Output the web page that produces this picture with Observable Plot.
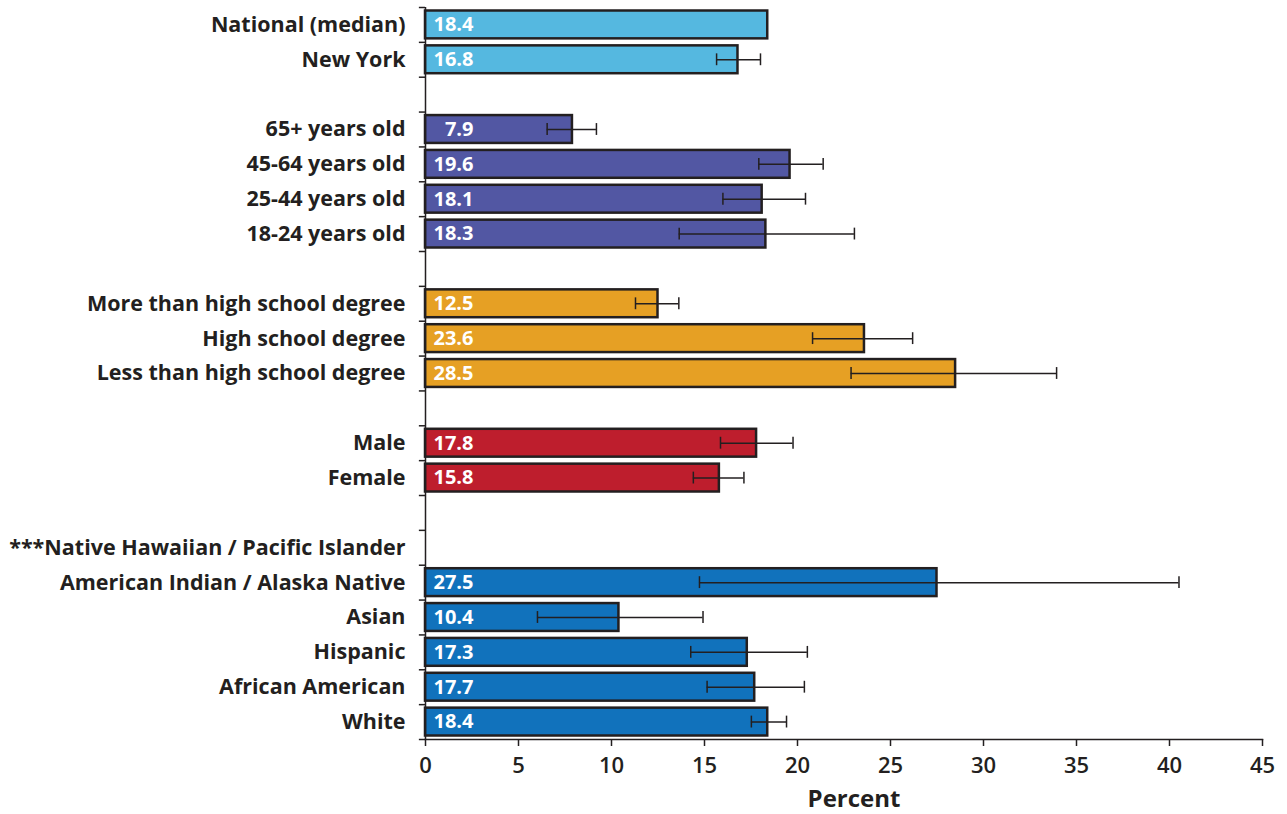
<!DOCTYPE html>
<html>
<head>
<meta charset="utf-8">
<script src="https://cdn.jsdelivr.net/npm/d3@7"></script>
<script src="https://cdn.jsdelivr.net/npm/@observablehq/plot@0.6"></script>
<style>
  html, body { margin: 0; padding: 0; background: #ffffff; }
  #chart { width: 1287px; height: 814px; }
</style>
</head>
<body>
<div id="chart"></div>
<script>
// Row categories (blank keys are gaps between groups)
const categories = [
  "National (median)", "New York", " ",
  "65+ years old", "45-64 years old", "25-44 years old", "18-24 years old", "  ",
  "More than high school degree", "High school degree", "Less than high school degree", "   ",
  "Male", "Female", "    ",
  "***Native Hawaiian / Pacific Islander", "American Indian / Alaska Native", "Asian", "Hispanic", "African American", "White"
];
const groups = [
  "overall", "overall", null,
  "age", "age", "age", "age", null,
  "education", "education", "education", null,
  "sex", "sex", null,
  "race", "race", "race", "race", "race", "race"
];
const values = [
  18.4, 16.8, null,
  7.9, 19.6, 18.1, 18.3, null,
  12.5, 23.6, 28.5, null,
  17.8, 15.8, null,
  null, 27.5, 10.4, 17.3, 17.7, 18.4
];
const ciLow = [
  null, 15.65, null,
  6.54, 17.92, 15.99, 13.64, null,
  11.29, 20.81, 22.88, null,
  15.86, 14.40, null,
  null, 14.73, 6.02, 14.26, 15.14, 17.52
];
const ciHigh = [
  null, 18.01, null,
  9.19, 21.38, 20.43, 23.06, null,
  13.62, 26.19, 33.93, null,
  19.76, 17.12, null,
  null, 40.51, 14.92, 20.53, 20.37, 19.41
];
const xTicks = [0, 5, 10, 15, 20, 25, 30, 35, 40, 45];
const groupNames = ["overall", "age", "education", "sex", "race"];
const groupColors = ["#55b8e0", "#5257a3", "#e6a024", "#be1e2d", "#1172bc"];

const rows = categories.map((c, i) => ({label: c, group: groups[i], value: values[i], lo: ciLow[i], hi: ciHigh[i]}));
const bars = rows.filter(d => d.value != null);
const errs = rows.filter(d => d.lo != null);

const W = 1287, H = 814;
const mTop = 7, mBottom = 75, mLeft = 425, mRight = 25;
const step = (H - mTop - mBottom) / categories.length;
const ink = "#231f20";
const font = "'Open Sans', 'Noto Sans', sans-serif";

const chart = Plot.plot({
  width: W,
  height: H,
  marginTop: mTop,
  marginBottom: mBottom,
  marginLeft: mLeft,
  marginRight: mRight,
  style: {fontFamily: font, color: ink, background: "#ffffff"},
  x: {domain: [0, 45]},
  y: {domain: categories, padding: 0, round: false},
  color: {domain: groupNames, range: groupColors},
  marks: [
    Plot.barX(bars, {y: "label", x: "value", fill: "group", stroke: ink, strokeWidth: 2.5, insetTop: 3.5, insetBottom: 3.5}),
    Plot.ruleY(errs, {y: "label", x1: "lo", x2: "hi", stroke: ink, strokeWidth: 1.5}),
    Plot.tickX(errs, {y: "label", x: "lo", stroke: ink, strokeWidth: 1.5, insetTop: 11.5, insetBottom: 11.5}),
    Plot.tickX(errs, {y: "label", x: "hi", stroke: ink, strokeWidth: 1.5, insetTop: 11.5, insetBottom: 11.5}),
    Plot.text(bars, {y: "label", x: 0, text: d => d.value.toFixed(1), dx: 48, textAnchor: "end", fill: "white", fontWeight: "bold", fontSize: 20}),
    // y axis line and boundary ticks
    Plot.ruleX([0], {stroke: ink, strokeWidth: 1.5}),
    Plot.ruleY(categories, {y: d => d, x1: 0, x2: -0.33, dy: -step / 2, stroke: ink, strokeWidth: 1.5}),
    Plot.ruleY(categories.slice(-1), {y: d => d, x1: 0, x2: -0.33, dy: step / 2, stroke: ink, strokeWidth: 1.5}),
    Plot.axisY({tickSize: 0, tickPadding: 20, fontSize: 21.5, fontWeight: "bold", fill: ink, label: null}),
    // x axis
    Plot.frame({anchor: "bottom", stroke: ink, strokeWidth: 1.5}),
    Plot.axisX({ticks: xTicks, tickSize: 7, tickPadding: 11, fontSize: 22, fontWeight: 600, fill: ink, stroke: ink, strokeWidth: 1.5, label: null}),
    Plot.text(["Percent"], {frameAnchor: "bottom", text: d => d, dy: 67, dx: 10, fontSize: 24, fontWeight: "bold", fill: ink})
  ]
});
document.getElementById("chart").appendChild(chart);
</script>
</body>
</html>
